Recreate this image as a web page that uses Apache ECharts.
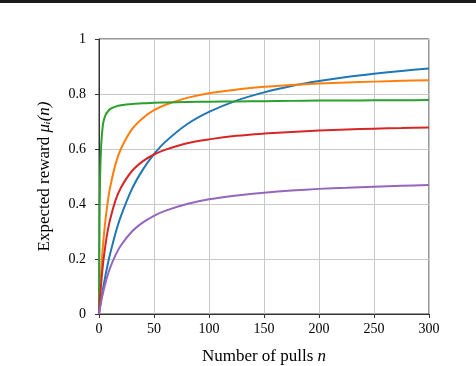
<!DOCTYPE html>
<html>
<head>
<meta charset="utf-8">
<script src="https://cdn.jsdelivr.net/npm/echarts@6/dist/echarts.min.js"></script>
<style>
	html, body { margin: 0; padding: 0; background: #fff; }
	#chart { width: 476px; height: 366px; }
</style>
</head>
<body>
<div id="chart"></div>
<script type="text/javascript">
	// pulls n, shared by every curve
	var pulls = [0, 0.5, 1, 2, 3, 4, 6, 8, 10, 15, 20, 30, 40, 50, 60, 80, 100, 125, 150, 175, 200, 225, 250, 275, 300];

	var blueVals   = [0, 0.014, 0.027, 0.053, 0.077, 0.100, 0.143, 0.182, 0.217, 0.294, 0.357, 0.455, 0.526, 0.581, 0.625, 0.690, 0.735, 0.776, 0.806, 0.829, 0.847, 0.862, 0.874, 0.884, 0.893];
	var orangeVals = [0, 0.045, 0.086, 0.157, 0.217, 0.267, 0.347, 0.409, 0.458, 0.545, 0.601, 0.672, 0.713, 0.741, 0.760, 0.786, 0.803, 0.816, 0.826, 0.833, 0.838, 0.842, 0.845, 0.848, 0.850];
	var greenVals  = [0, 0.330, 0.500, 0.615, 0.668, 0.698, 0.724, 0.736, 0.745, 0.754, 0.759, 0.764, 0.766, 0.768, 0.769, 0.771, 0.772, 0.773, 0.774, 0.775, 0.776, 0.776, 0.777, 0.777, 0.778];
	var redVals    = [0, 0.032, 0.061, 0.112, 0.156, 0.194, 0.255, 0.304, 0.342, 0.413, 0.460, 0.520, 0.556, 0.580, 0.597, 0.621, 0.635, 0.648, 0.656, 0.662, 0.667, 0.671, 0.674, 0.676, 0.678];
	var purpleVals = [0, 0.012, 0.024, 0.045, 0.065, 0.083, 0.115, 0.143, 0.167, 0.214, 0.250, 0.300, 0.333, 0.357, 0.375, 0.400, 0.417, 0.431, 0.441, 0.449, 0.455, 0.459, 0.463, 0.466, 0.469];

	var colors = ['#1f77b4', '#ff7f0e', '#2ca02c', '#d62728', '#9467bd'];
	var font = 'Liberation Serif';

	function pairs(vals){
		return pulls.map(function(n, i){ return [n, vals[i]]; });
	}

	function curve(vals, color){
		return {
			type: 'line',
			data: pairs(vals),
			smooth: 0.3,
			showSymbol: false,
			lineStyle: { color: color, width: 2 },
			silent: true
		};
	}

	var nameStyle = {
		fontFamily: font, fontSize: 17, color: '#000',
		rich: { i: { fontFamily: font, fontSize: 17, fontStyle: 'italic', color: '#000' } }
	};

	var option = {
		animation: false,
		backgroundColor: '#fff',
		graphic: [
			{ type: 'rect', left: 0, top: 0, shape: { width: 476, height: 3 }, style: { fill: '#1c1c1c' } }
		],
		grid: {
			left: 99,
			right: 47,
			top: 39,
			bottom: 52,
			outerBoundsMode: 'none',
			containLabel: false,
			show: true,
			borderColor: '#333',
			borderWidth: 1,
			backgroundColor: 'transparent'
		},
		xAxis: {
			type: 'value',
			min: 0,
			max: 300,
			interval: 50,
			name: 'Number of pulls {i|n}',
			nameLocation: 'middle',
			nameGap: 34,
			nameTextStyle: nameStyle,
			axisLine: { show: true, lineStyle: { color: '#333', width: 1 } },
			axisTick: { show: true, length: 4, lineStyle: { color: '#333' } },
			axisLabel: { fontFamily: font, fontSize: 14, color: '#000', margin: 8 },
			splitLine: { show: true, lineStyle: { color: '#c8c8c8', width: 1 } }
		},
		yAxis: {
			type: 'value',
			min: 0,
			max: 1,
			interval: 0.2,
			name: 'Expected reward {i|μᵢ(n)}',
			nameLocation: 'middle',
			nameGap: 46,
			nameTextStyle: nameStyle,
			axisLine: { show: true, lineStyle: { color: '#333', width: 1 } },
			axisTick: { show: true, length: 4, lineStyle: { color: '#333' } },
			axisLabel: {
				fontFamily: font, fontSize: 14, color: '#000', margin: 13,
				formatter: function(v){ return String(Math.round(v * 10) / 10); }
			},
			splitLine: { show: true, lineStyle: { color: '#c8c8c8', width: 1 } }
		},
		series: [
			curve(blueVals, colors[0]),
			curve(orangeVals, colors[1]),
			curve(greenVals, colors[2]),
			curve(redVals, colors[3]),
			curve(purpleVals, colors[4])
		]
	};

	var myChart = echarts.init(document.getElementById('chart'), null, { renderer: 'canvas' });
	myChart.setOption(option);
</script>
</body>
</html>
